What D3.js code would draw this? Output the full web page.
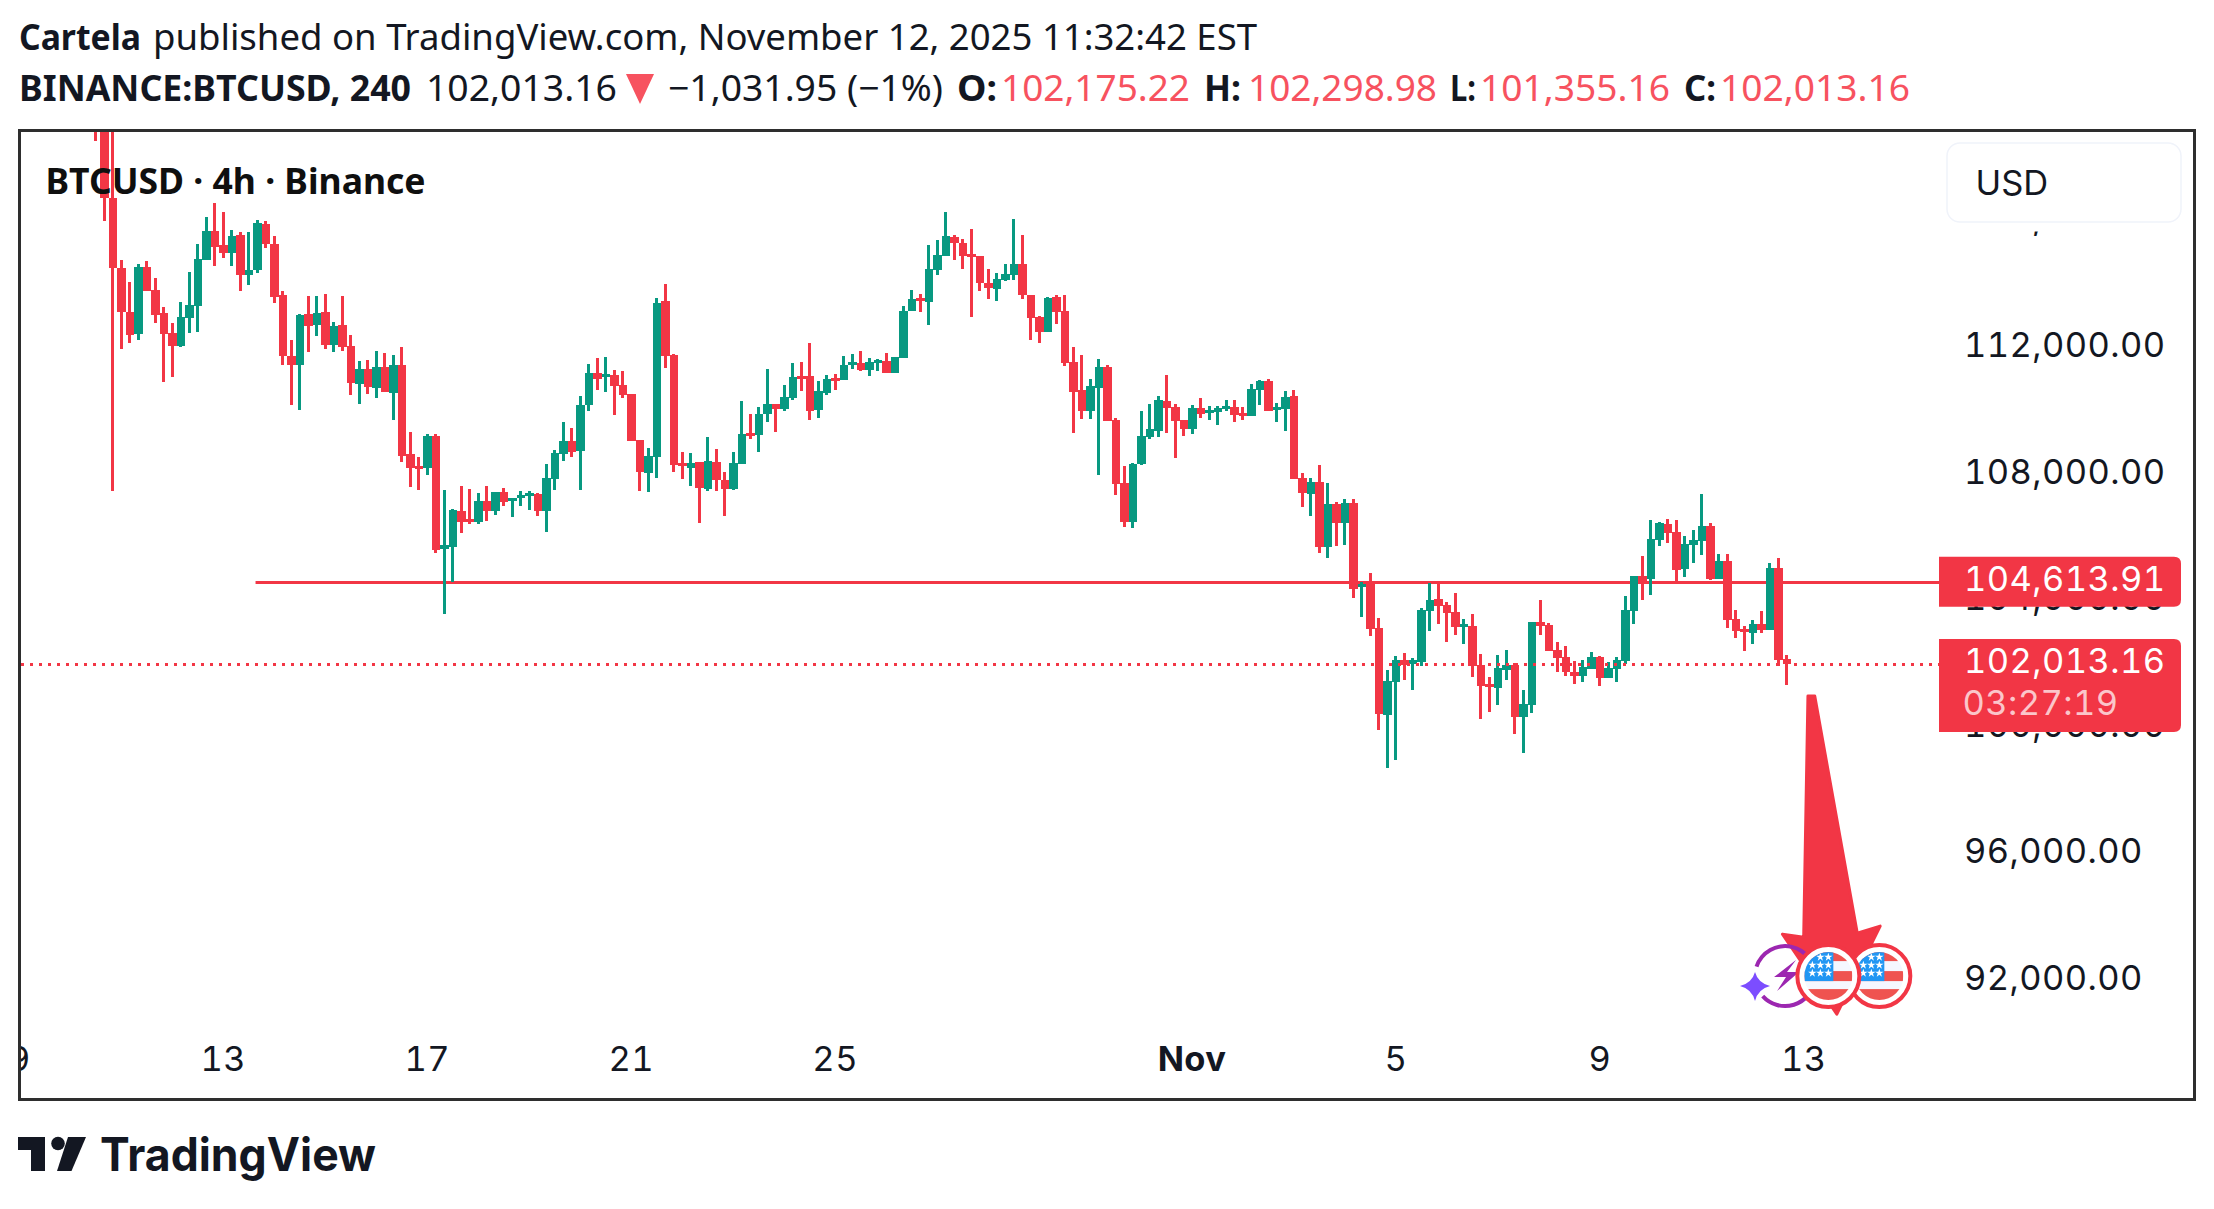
<!DOCTYPE html>
<html>
<head>
<meta charset="utf-8">
<script src="https://d3js.org/d3.v7.min.js"></script>
<style>
  body { margin: 0; background: #fff; }
  text { white-space: pre; }
  .num { font-feature-settings: "tnum"; letter-spacing: 0.4px; }
</style>
</head>
<body>
<script>

// 4h candles, one row = 10 bars
var opens = [
  120500,119100,116740,114528,113148,112443,114559,113833,113106,112474,
  112064,112948,113327,114780,115696,115254,115002,115570,114306,114464,
  115918,115286,113675,111748,111463,113075,112727,113138,112095,112727,
  112062,110862,111336,110736,111399,110578,111462,108651,108271,108208,
  109219,105650,105713,106850,106597,106503,107166,106850,107450,107166,
  107261,107324,107387,106850,107861,108651,109061,108745,110198,111209,
  111083,111146,110830,110546,109093,108050,108556,113484,111778,108366,
  108208,108398,107546,108398,107830,107546,108335,109315,109251,109915,
  110231,110073,110420,111115,111115,110041,110578,111052,110989,111463,
  111526,111305,111526,111589,111210,111684,113169,113579,113453,114464,
  114906,115506,115317,114969,114906,114053,113864,114148,114306,114653,
  113674,112979,112505,113610,113168,111556,110671,110008,110735,111398,
  109724,107734,106502,108334,109187,109376,110324,110134,109724,109439,
  110103,109945,109976,110071,110134,109945,109850,110671,110956,110040,
  110071,110482,107891,107386,107765,105712,107070,106470,107102,104448,
  104574,103153,100404,101447,102141,102014,102078,103689,104068,103878,
  103657,103183,103215,101983,101383,101256,101825,101983,100340,100719,
  103341,103247,102457,102236,101762,101635,101856,102236,101572,101856,
  102109,103689,104794,104700,105932,106437,106184,105016,105774,105900,
  106374,104700,105268,103436,103120,102994,103278,103088,105047,102175
];

var highs = [
  121000,119500,119500,114780,114085,114654,114749,114212,113296,112790,
  113454,114401,115286,116139,116581,116297,115728,115665,115665,116044,
  116012,115539,113801,112253,113075,113643,113643,113706,112822,113643,
  112410,111588,111620,111904,111841,111778,112031,109346,108556,109282,
  109282,107513,106913,107640,107545,107419,107640,107450,107577,107261,
  107482,107482,107419,108335,108777,109661,109472,110483,111494,111683,
  111715,111304,111273,110546,109093,108840,113579,114021,111810,108714,
  108682,108398,109188,108809,108083,108714,110325,109915,110136,111336,
  110231,110831,111526,111557,112158,110957,111147,111178,111747,111810,
  111905,111684,111652,111842,111715,113327,113832,113706,115254,115411,
  116296,115569,115443,115759,114906,114495,114369,114653,116075,115569,
  113674,113011,113611,113673,113673,112031,111777,111019,111651,111461,
  109787,108271,108365,110008,110229,110482,111145,110229,109724,110198,
  110419,110166,110166,110356,110356,110134,110861,110987,111019,110261,
  110640,110671,108049,107891,108302,107733,107133,107228,107228,104606,
  104890,103469,101826,102268,102362,102204,103783,104573,104573,103973,
  104257,103436,103594,102330,101604,102299,102457,102046,101193,103341,
  104036,103310,102709,102583,102109,102141,102393,102267,102078,102236,
  104163,104794,105426,106563,106500,106595,106563,106058,106248,107385,
  106469,105489,105489,103720,103215,103404,103689,105205,105363,102299
];

var lows = [
  118550,116000,107490,111969,112158,112253,113801,112790,110926,111084,
  112032,112474,112506,114780,114591,114844,114591,113801,113991,114370,
  115160,113422,111463,110200,110042,111874,112380,111969,111874,111906,
  110514,110230,110546,110420,110609,109725,108398,107608,107513,107987,
  105523,103596,104618,106155,106439,106439,106534,106724,107008,106660,
  107008,106882,106692,106187,107513,108429,108556,107513,110009,110673,
  110609,109883,110420,109061,107482,107450,107892,111367,108082,107861,
  107640,106471,107482,107482,106693,107514,108335,109125,108714,109662,
  109346,110010,110357,110641,109725,109788,110515,110673,110989,111336,
  111273,111115,111273,111210,111210,111684,113169,113137,112726,114306,
  114906,114780,114495,112979,113800,113548,113484,114116,114148,113548,
  112252,112158,112505,112757,111430,109313,109755,109755,107986,109692,
  107354,106344,106312,108302,109123,109187,109313,108523,109218,109281,
  109787,109724,109566,110008,109661,109724,109850,110197,110008,109661,
  109376,107860,106975,106691,105522,105364,105743,105775,104101,103500,
  102900,99931,98730,98983,101509,101193,101951,103057,103278,102709,
  102930,102646,101604,100277,100498,100719,101509,99803,99203,100466,
  102930,102425,101762,101635,101383,101446,101856,101319,101572,101446,
  102014,103278,104036,104194,105742,105837,104637,104763,105205,105458,
  104668,104700,103152,102836,102425,102646,102994,103088,101951,101355
];

var closes = [
  119100,116750,114540,113148,112411,114559,113801,113043,112443,112064,
  112980,113359,114812,115696,115191,115002,115539,114306,114464,115949,
  115286,113612,111748,111463,113043,112695,113106,112095,112695,112032,
  110894,111336,110767,111399,110609,111462,108587,108208,108177,109219,
  105618,105776,106882,106503,106503,107166,106850,107450,107134,107261,
  107355,107419,106850,107892,108682,109061,108714,110198,111209,111020,
  111178,110799,110514,109061,108082,108587,113421,111747,108303,108271,
  108366,107577,108430,107830,107546,108367,109283,109220,109915,110231,
  110073,110452,111084,111020,110010,110641,111021,110957,111463,111558,
  111305,111558,111621,111210,111715,113169,113548,113484,114495,114938,
  115538,115317,114906,114874,114053,113895,114179,114337,114653,113674,
  112947,112505,113579,113136,111525,110608,110008,110798,111398,109692,
  107702,106502,108334,109218,109439,110355,110103,109692,109439,110103,
  109913,110040,110103,110166,109882,109850,110703,110956,110008,110134,
  110450,107860,107418,107765,105712,107070,106470,107102,104385,104543,
  103121,100436,101479,102142,101983,102141,103720,104036,103847,103626,
  103183,103278,101951,101319,101288,101888,101983,100340,100751,103341,
  103215,102425,102204,101762,101635,101920,102236,101572,101888,102141,
  103720,104794,104573,105963,106469,106153,104984,105805,105932,106374,
  104700,105268,103404,103057,103025,103278,103088,105047,102141,102013
];

var dayTicks = [-9, 15, 39, 63, 87, 129, 153, 177, 201];
var dayLabels = ["9", "13", "17", "21", "25", "Nov", "5", "9", "13"];
var priceTicks = [92000, 96000, 100000, 104000, 108000, 112000, 116000];

var levelPrice = 104613.91;
var lastPrice = 102013.16;
var levelStartBar = 19.2;

// hand drawn arrow, bar / price pairs
var arrowBars = [201.4, 202.2, 207.2, 209.9, 204.8, 198.4, 200.9];
var arrowPrices = [101002, 101002, 93513, 93734, 90953, 93481, 93386];

var eventPrice = 92155;
var earningsBar = 198.7;
var flagBars = [209.8, 203.8];

var headerTexts = [
  "Cartela", "published on TradingView.com, November 12, 2025 11:32:42 EST",
  "BINANCE:BTCUSD, 240", "102,013.16", "\u22121,031.95 (\u22121%)",
  "O:", "102,175.22", "H:", "102,298.98", "L:", "101,355.16", "C:", "102,013.16"
];

var red = "#F23645";
var green = "#089981";
var ink = "#131722";
var headerRed = "#F7525F";
var headFont = "'Noto Sans', sans-serif";
var axisFont = "Inter, sans-serif";

var width = 2214, height = 1209;

var svg = d3.select("body").append("svg")
  .attr("width", width)
  .attr("height", height)
  .style("display", "block");

svg.append("rect").attr("width", width).attr("height", height).attr("fill", "#fff");

var x = d3.scaleLinear().domain([0, 200]).range([92.4, 1791.8]);
var y = d3.scaleLinear().domain([92000, 116000]).range([981, 221.4]);

function mid(i) { return x(i) + 4.25; }

svg.append("defs").append("clipPath").attr("id", "pane")
  .append("rect").attr("x", 21).attr("y", 132).attr("width", 2172).attr("height", 966);

// header lines: left, baseline, width, bold, colour
var headerLayout = [
  [19, 49.5, 122, 1, ink], [153, 49.5, 1104, 0, ink],
  [19, 100.5, 392, 1, ink], [426, 100.5, 191, 0, ink], [668, 100.5, 275, 0, ink],
  [957, 100.5, 40, 1, ink], [1001, 100.5, 189, 0, headerRed],
  [1204, 100.5, 37, 1, ink], [1248, 100.5, 189, 0, headerRed],
  [1450, 100.5, 26, 1, ink], [1480, 100.5, 190, 0, headerRed],
  [1684, 100.5, 32, 1, ink], [1720, 100.5, 190, 0, headerRed]
];

svg.append("g").selectAll("text").data(headerTexts).join("text")
  .attr("x", function(d, i) { return headerLayout[i][0]; })
  .attr("y", function(d, i) { return headerLayout[i][1]; })
  .attr("textLength", function(d, i) { return headerLayout[i][2]; })
  .attr("lengthAdjust", "spacingAndGlyphs")
  .attr("font-family", headFont)
  .attr("font-size", 36)
  .attr("font-weight", function(d, i) { return headerLayout[i][3] ? 700 : 400; })
  .attr("fill", function(d, i) { return headerLayout[i][4]; })
  .text(function(d) { return d; });

svg.append("path")
  .attr("d", "M626,74H654L640,104Z")
  .attr("fill", headerRed);

// plot area
var pane = svg.append("g").attr("clip-path", "url(#pane)");

var lineY = Math.round(y(levelPrice)) + 0.5;
pane.append("line")
  .attr("x1", x(levelStartBar))
  .attr("x2", 1939)
  .attr("y1", lineY).attr("y2", lineY)
  .attr("stroke", red).attr("stroke-width", 3);

var bars = pane.append("g").attr("shape-rendering", "crispEdges");

bars.selectAll("rect.wick").data(d3.range(opens.length)).join("rect")
  .attr("class", "wick")
  .attr("x", function(i) { return Math.floor(x(i) + 2.5); })
  .attr("width", 3)
  .attr("y", function(i) { return Math.round(y(highs[i])); })
  .attr("height", function(i) { return Math.round(y(lows[i])) - Math.round(y(highs[i])); })
  .attr("fill", function(i) { return closes[i] < opens[i] ? red : green; });

bars.selectAll("rect.body").data(d3.range(opens.length)).join("rect")
  .attr("class", "body")
  .attr("x", function(i) { return Math.floor(x(i)); })
  .attr("width", function(i) { return Math.floor(x(i + 1)) - Math.floor(x(i)); })
  .attr("y", function(i) { return Math.round(y(Math.max(opens[i], closes[i]))); })
  .attr("height", function(i) {
    return Math.max(3, Math.round(y(Math.min(opens[i], closes[i]))) - Math.round(y(Math.max(opens[i], closes[i]))));
  })
  .attr("fill", function(i) { return closes[i] < opens[i] ? red : green; });

var lastY = Math.round(y(lastPrice)) + 0.5;
pane.append("line")
  .attr("x1", 21).attr("x2", 1939)
  .attr("y1", lastY).attr("y2", lastY)
  .attr("stroke", red).attr("stroke-width", 3)
  .attr("stroke-dasharray", "3 6");

pane.append("text")
  .attr("x", 45.5).attr("y", 193.5)
  .attr("font-family", headFont)
  .attr("font-size", 36)
  .attr("font-weight", 700)
  .attr("textLength", 380).attr("lengthAdjust", "spacingAndGlyphs")
  .attr("fill", "#0f0f0f")
  .text("BTCUSD \u00b7 4h \u00b7 Binance");

// price axis
var yAxis = pane.append("g")
  .attr("transform", "translate(1964,0)")
  .call(d3.axisRight(y).tickValues(priceTicks).tickSize(0).tickPadding(0).tickFormat(d3.format(",.2f")));
yAxis.select(".domain").remove();
yAxis.selectAll("text")
  .attr("class", "num")
  .attr("dy", 8.5)
  .attr("font-family", axisFont)
  .attr("font-size", 34.5)
  .attr("fill", ink);

// time axis
var xAxis = pane.append("g")
  .attr("transform", "translate(3,1070.5)")
  .call(d3.axisBottom(x).tickValues(dayTicks).tickSize(0).tickPadding(0)
    .tickFormat(function(d, i) { return dayLabels[i]; }));
xAxis.select(".domain").remove();
xAxis.selectAll("text")
  .attr("class", "num")
  .attr("y", 0).attr("dy", 0)
  .attr("font-family", axisFont)
  .attr("font-size", 34.5)
  .attr("font-weight", function(d, i) { return dayLabels[i] == "Nov" ? 700 : 400; })
  .attr("fill", ink);

// USD box, it hides the top price label except for the comma tail
svg.append("rect")
  .attr("x", 1940).attr("y", 132).attr("width", 252).attr("height", 99.5)
  .attr("fill", "#fff");
svg.append("rect")
  .attr("x", 1947).attr("y", 143).attr("width", 234).attr("height", 79).attr("rx", 13)
  .attr("fill", "#fff").attr("stroke", "#f0f3fa").attr("stroke-width", 1.5);
svg.append("text")
  .attr("x", 1975.5).attr("y", 195)
  .attr("font-family", axisFont).attr("font-size", 34.5).attr("fill", ink)
  .text("USD");

// price tags
function tag(top, bottom) {
  var p = d3.path(), r = 7, l = 1939, e = 2181;
  p.moveTo(l, top);
  p.lineTo(e - r, top);
  p.quadraticCurveTo(e, top, e, top + r);
  p.lineTo(e, bottom - r);
  p.quadraticCurveTo(e, bottom, e - r, bottom);
  p.lineTo(l, bottom);
  p.closePath();
  return p.toString();
}

svg.append("path").attr("d", tag(y(levelPrice) - 25, y(levelPrice) + 25)).attr("fill", red);
svg.append("path").attr("d", tag(y(lastPrice) - 25, y(lastPrice) + 68)).attr("fill", red);

var tagText = svg.append("g")
  .attr("font-family", axisFont).attr("font-size", 34.5).attr("fill", "#fff");
tagText.append("text").attr("class", "num").attr("x", 1964).attr("y", y(levelPrice) + 9.5).text(d3.format(",.2f")(levelPrice));
tagText.append("text").attr("class", "num").attr("x", 1964).attr("y", y(lastPrice) + 9).text(d3.format(",.2f")(lastPrice));
tagText.append("text").attr("class", "num").attr("x", 1962.5).attr("y", y(lastPrice) + 51).attr("fill-opacity", 0.72).text("03:27:19");

// arrow
svg.append("path")
  .attr("d", d3.line()(arrowBars.map(function(b, i) { return [mid(b), y(arrowPrices[i])]; })) + "Z")
  .attr("fill", red).attr("stroke", red).attr("stroke-width", 3).attr("stroke-linejoin", "round");

// earnings icon
var earn = svg.append("g").attr("transform", "translate(" + mid(earningsBar) + "," + y(eventPrice) + ")");
var ring = d3.arc().innerRadius(28).outerRadius(32);
earn.append("path").attr("d", ring({startAngle: -1.25, endAngle: 1.7})).attr("fill", "#9C27B0");
earn.append("path").attr("d", ring({startAngle: 1.7, endAngle: 3.98})).attr("fill", "#9C27B0");
earn.append("path").attr("d", "M11,-16L-11,1H1L-8,15L14,-4H2Z").attr("fill", "#9C27B0");
earn.append("path")
  .attr("d", "M-30,-4Q-27,7 -15,10Q-27,13 -30,25Q-33,13 -45,10Q-33,7 -30,-4Z")
  .attr("fill", "#7C4DFF");

// flag icons
var flag = svg.selectAll("g.flag").data(flagBars).join("g")
  .attr("class", "flag")
  .attr("transform", function(b) { return "translate(" + mid(b) + "," + y(eventPrice) + ")"; });

flag.append("circle").attr("r", 31).attr("fill", "#fff").attr("stroke", red).attr("stroke-width", 4);

svg.select("defs").append("clipPath").attr("id", "flagClip")
  .append("circle").attr("r", 24);

var inner = flag.append("g").attr("clip-path", "url(#flagClip)");
inner.append("rect").attr("x", -24).attr("y", -24).attr("width", 48).attr("height", 48).attr("fill", "#F5F7FF");
[-24, -5, 13].forEach(function(t, k) {
  inner.append("rect").attr("x", -24).attr("y", t).attr("width", 48)
    .attr("height", [9, 10, 12][k]).attr("fill", "#EF5350");
});
inner.append("rect").attr("x", -24).attr("y", -24).attr("width", 29).attr("height", 29).attr("fill", "#2196F3");
[[-8, -19], [0, -19], [-16, -11], [-8, -11], [0, -11], [-16, -3], [-8, -3], [0, -3]].forEach(function(s) {
  inner.append("path")
    .attr("d", d3.symbol(d3.symbolStar, 22)())
    .attr("transform", "translate(" + s[0] + "," + s[1] + ")")
    .attr("fill", "#fff");
});

// frame goes over everything in the pane
svg.append("rect")
  .attr("x", 19.5).attr("y", 130.5).attr("width", 2175).attr("height", 969)
  .attr("fill", "none").attr("stroke", "#2e2e2e").attr("stroke-width", 3);

// logo
var logo = svg.append("g").attr("fill", ink);
logo.append("path").attr("d", "M18,1137H45V1171H31V1150H18Z");
logo.append("circle").attr("cx", 58).attr("cy", 1143.5).attr("r", 6.8);
logo.append("path").attr("d", "M68,1137H86L71.5,1171H57Z");
logo.append("text")
  .attr("x", 100).attr("y", 1171)
  .attr("font-family", axisFont).attr("font-size", 46).attr("font-weight", 700)
  .attr("textLength", 276).attr("lengthAdjust", "spacingAndGlyphs")
  .text("TradingView");

</script>
</body>
</html>
